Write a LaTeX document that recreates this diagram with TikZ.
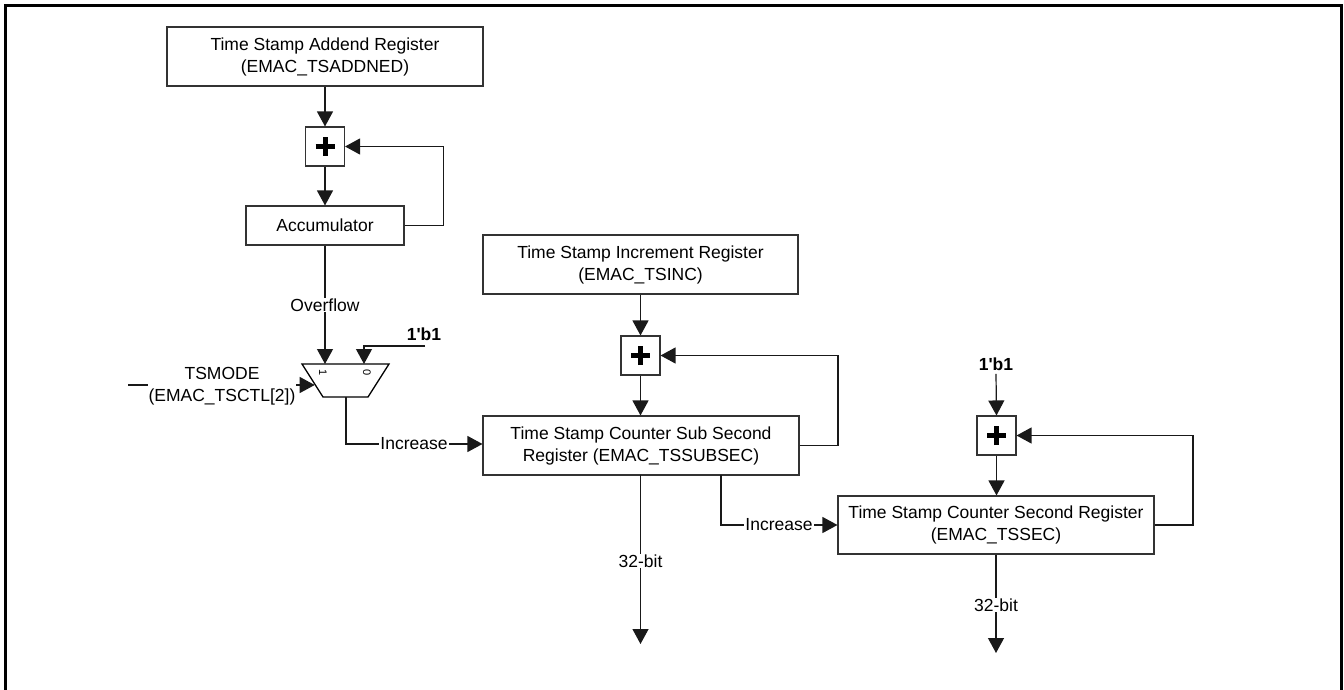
\documentclass[tikz,border=0pt]{standalone}
\usepackage{fontspec}
\setmainfont{Liberation Sans}
\usetikzlibrary{arrows.meta}
\begin{document}
\begin{tikzpicture}[x=1pt,y=-1pt,
  every node/.style={font=\fontsize{17.5}{22}\selectfont},
  regbox/.style={draw=black!80,line width=1.1pt,align=center,inner sep=0pt,fill=white},
  plusbox/.style={draw=black!80,line width=1.1pt,minimum width=39pt,minimum height=39pt,inner sep=0pt,
    path picture={\draw[line width=5pt,black] ([xshift=-9.5pt]path picture bounding box.center) -- ([xshift=9.5pt]path picture bounding box.center);
                  \draw[line width=5pt,black] ([yshift=-9.5pt]path picture bounding box.center) -- ([yshift=9.5pt]path picture bounding box.center);}},
  wire/.style={line width=1.2pt,black!90},
  arr/.style={wire,-{Triangle[length=15pt,width=16pt]}},
  lbl/.style={fill=white,inner sep=1pt},
  bitlbl/.style={font=\fontsize{17.5}{22}\selectfont\bfseries},
  muxlbl/.style={font=\fontsize{11}{12}\selectfont,rotate=-90}
]
\useasboundingbox (0,0) rectangle (1344,690);
% frame
\draw[line width=3pt] (5.5,690) -- (5.5,6) -- (1341.5,6) -- (1341.5,690);

% left column
\node[regbox,minimum width=316pt,minimum height=59pt] (addend) at (325,56.5) {Time Stamp Addend Register\\(EMAC\_TSADDNED)};
\node[plusbox] (plusA) at (325,146.5) {};
\node[regbox,minimum width=158pt,minimum height=39pt] (acc) at (325,225.5) {Accumulator};
\draw[arr] (addend.south) -- (plusA.north);
\draw[arr] (plusA.south) -- (acc.north);
\draw[arr] (acc.east) -- ++(39,0) |- (plusA.east);

% mux
\coordinate (mtl) at (302,364);
\coordinate (mtr) at (389,364);
\coordinate (mbr) at (368,397);
\coordinate (mbl) at (323,397);
\coordinate (min1) at (325,364);
\coordinate (min0) at (364,364);
\coordinate (mout) at (346,397);
\coordinate (msel) at (314.7,385);
\draw[line width=1.3pt] (mtl) -- (mtr) -- (mbr) -- (mbl) -- cycle;
\node[muxlbl] (m1) at (323,373) {1};
\node[muxlbl] (m0) at (367,373) {0};

\draw[arr] (acc.south) -- (min1);
\node[lbl] (ovf) at (325,305) {Overflow};

\node[bitlbl] (b1a) at (424,334) {1\textquotesingle b1};
\coordinate (b1aw) at (425,346);
\draw[arr] (b1aw) -- (364,346) -- (min0);

\coordinate (tsin) at (128,385);
\draw[arr] (tsin) -- (msel);
\node[lbl,align=center,inner sep=0.5pt] (tsmode) at (222,386) {TSMODE\\(EMAC\_TSCTL[2])};

% middle column
\node[regbox,minimum width=315pt,minimum height=59pt] (incr) at (640.5,264.5) {Time Stamp Increment Register\\(EMAC\_TSINC)};
\node[plusbox] (plusB) at (640.5,355.5) {};
\node[regbox,minimum width=316pt,minimum height=59pt] (subsec) at (641,445.5) {Time Stamp Counter Sub Second\\Register (EMAC\_TSSUBSEC)};
\draw[arr] (incr.south) -- (plusB.north);
\draw[arr] (plusB.south) -- (plusB.south |- subsec.north);
\draw[arr] (subsec.east) -- (838,445.5) |- (plusB.east);
\draw[arr] (mout) -- (346,444) -- (subsec.west |- 0,444);
\node[lbl] (inc1) at (414,444) {Increase};

\coordinate (subout) at (640.5,644);
\draw[arr] (640.5,475) -- (subout);
\node[lbl] (bits1) at (640.5,561) {32-bit};

% right column
\node[regbox,minimum width=316pt,minimum height=58pt] (tssec) at (996,525) {Time Stamp Counter Second Register\\(EMAC\_TSSEC)};
\node[plusbox] (plusC) at (996.5,435.5) {};
\node[bitlbl] (b1b) at (996,364) {1\textquotesingle b1};
\draw[arr] (b1b.south) -- (plusC.north);
\draw[arr] (plusC.south) -- (plusC.south |- tssec.north);
\draw[arr] (tssec.east) -- (1193,525) |- (plusC.east);
\draw[arr] (721,475) -- (721,525) -- (tssec.west);
\node[lbl] (inc2) at (779,525) {Increase};

\coordinate (secout) at (996,653);
\draw[arr] (tssec.south) -- (secout);
\node[lbl] (bits2) at (996,605) {32-bit};
\end{tikzpicture}
\end{document}
